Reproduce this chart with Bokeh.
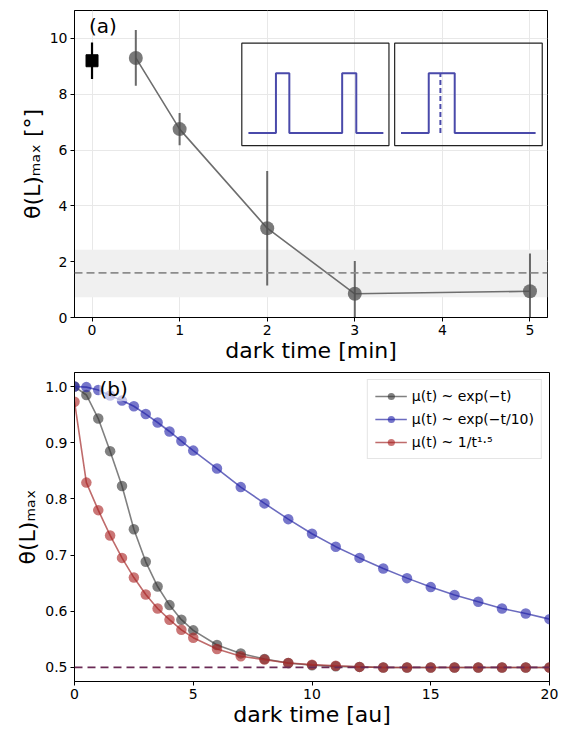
import numpy as np
from bokeh.plotting import figure
from bokeh.models import (Span, BoxAnnotation, Label, Legend, LegendItem,
                          FixedTicker, Range1d, NumeralTickFormatter)
from bokeh.layouts import column
from bokeh.embed import file_html
from bokeh.resources import INLINE

# ---------------- panel (a) data ----------------
dark_min = [0.5, 1, 2, 3, 5]
theta_a = [9.3, 6.75, 3.2, 0.85, 0.94]
err_a = [1.0, 0.58, 2.05, 1.17, 1.35]
ref_x = [0]
ref_y = [9.2]
ref_err = [0.65]
base_level = 1.6
base_low = 0.73
base_high = 2.43

# inset pulse schematics (normalised inset coordinates)
pulse1_t = [0.045, 0.232, 0.232, 0.323, 0.323, 0.682, 0.682, 0.778, 0.778, 0.962]
pulse1_v = [0, 0, 1, 1, 0, 0, 1, 1, 0, 0]
pulse2_t = [0.043, 0.231, 0.231, 0.407, 0.407, 0.955]
pulse2_v = [0, 0, 1, 1, 0, 0]
pulse2_mark_t = [0.31, 0.31]
pulse2_mark_v = [0, 1]

# ---------------- panel (b) data ----------------
t_b = [0, 0.5, 1, 1.5, 2, 2.5, 3, 3.5, 4, 4.5, 5, 6, 7, 8, 9, 10,
       11, 12, 13, 14, 15, 16, 17, 18, 19, 20]
theta_exp1 = [1.0, 0.985, 0.943, 0.885, 0.823, 0.746, 0.688, 0.644, 0.611,
              0.585, 0.566, 0.540, 0.525, 0.515, 0.508, 0.504, 0.502, 0.501,
              0.500, 0.500, 0.500, 0.500, 0.500, 0.500, 0.500, 0.500]
theta_exp10 = [1.0, 0.999, 0.994, 0.984, 0.975, 0.965, 0.951, 0.936, 0.920,
               0.903, 0.886, 0.854, 0.821, 0.792, 0.764, 0.738, 0.715, 0.695,
               0.676, 0.659, 0.643, 0.629, 0.617, 0.605, 0.596, 0.586]
theta_pow = [0.973, 0.829, 0.780, 0.735, 0.695, 0.660, 0.630, 0.605, 0.585,
             0.567, 0.553, 0.533, 0.520, 0.514, 0.508, 0.505, 0.503, 0.501,
             0.500, 0.500, 0.500, 0.500, 0.500, 0.500, 0.500, 0.500]
legend_labels = ["\u03bc(t) ~ exp(\u2212t)", "\u03bc(t) ~ exp(\u2212t/10)",
                 "\u03bc(t) ~ 1/t\u00b9\u00b7\u2075"]
asymptote = 0.5

FONT = "DejaVu Sans"


def style(p, xticks, yticks):
    for ax in (p.xaxis[0], p.yaxis[0]):
        ax.major_label_text_font = FONT
        ax.major_label_text_font_size = "14px"
        ax.major_label_text_color = "black"
        ax.major_label_standoff = 3
        ax.axis_label_text_font = FONT
        ax.axis_label_text_font_size = "22px"
        ax.axis_label_text_font_style = "normal"
        ax.axis_label_text_color = "black"
        ax.axis_label_standoff = 2
        ax.major_tick_out = 4
        ax.major_tick_in = 0
        ax.minor_tick_line_color = None
        ax.axis_line_color = "black"
        ax.major_tick_line_color = "black"
    p.xaxis[0].axis_label_standoff = 0
    p.xaxis[0].ticker = FixedTicker(ticks=xticks)
    p.yaxis[0].ticker = FixedTicker(ticks=yticks)
    p.outline_line_color = "black"
    p.outline_line_alpha = 1
    p.background_fill_color = "white"
    p.border_fill_color = "white"


# ================= panel (a) =================
p1 = figure(frame_width=473, frame_height=307, output_backend="svg",
            toolbar_location=None, x_range=Range1d(-0.2, 5.2),
            y_range=Range1d(0, 11), min_border_left=74, min_border_top=10,
            min_border_right=8, min_border_bottom=40)
style(p1, [0, 1, 2, 3, 4, 5], [0, 2, 4, 6, 8, 10])
p1.xaxis[0].axis_label = "dark time [min]"
p1.yaxis[0].axis_label = "\u03b8(L)\u2098\u2090\u2093 [\u00b0]"
p1.grid.grid_line_color = "#e8e8e8"

p1.add_layout(BoxAnnotation(bottom=base_low, top=base_high, fill_color="#f0f0f0",
                            fill_alpha=1, line_color=None, level="underlay"))
p1.add_layout(Span(location=base_level, dimension="width", line_color="#8c8c8c",
                   line_width=1.6, line_dash="8 4"))

# insets
box_l = [1.71, 3.455]
box_r = [3.39, 5.14]
box_b, box_t = 6.16, 9.83
lvl_lo, lvl_hi = 0.124, 0.707
p1.quad(left=box_l, right=box_r, bottom=[box_b] * 2, top=[box_t] * 2,
        fill_color=None, line_color="#222222", line_width=1.2)


def to_data(i, ts, vs):
    xs = [box_l[i] + t * (box_r[i] - box_l[i]) for t in ts]
    ys = [box_b + (lvl_lo + v * (lvl_hi - lvl_lo)) * (box_t - box_b) for v in vs]
    return xs, ys


xs, ys = to_data(0, pulse1_t, pulse1_v)
p1.line(xs, ys, line_color="#4a4aaa", line_width=2)
xs, ys = to_data(1, pulse2_t, pulse2_v)
p1.line(xs, ys, line_color="#4a4aaa", line_width=2)
xs, ys = to_data(1, pulse2_mark_t, pulse2_mark_v)
p1.line(xs, ys, line_color="#4a4aaa", line_width=2, line_dash="5 3")

# data
p1.line(dark_min, theta_a, line_color="#6e6e6e", line_width=1.6)
p1.segment(x0=dark_min, y0=[y - e for y, e in zip(theta_a, err_a)],
           x1=dark_min, y1=[y + e for y, e in zip(theta_a, err_a)],
           line_color="#5a5a5a", line_width=2, line_alpha=0.9)
p1.scatter(dark_min, theta_a, size=14, fill_color="#4d4d4d", fill_alpha=0.75,
           line_color=None)
p1.segment(x0=ref_x, y0=[y - e for y, e in zip(ref_y, ref_err)],
           x1=ref_x, y1=[y + e for y, e in zip(ref_y, ref_err)],
           line_color="black", line_width=2.2)
p1.scatter(ref_x, ref_y, marker="square", size=12, fill_color="black",
           line_color="black")

p1.add_layout(Label(x=-0.035, y=10.43, text="(a)", text_font=FONT,
                    text_font_size="20px", text_baseline="middle",
                    text_color="black"))

# ================= panel (b) =================
p2 = figure(frame_width=475, frame_height=309, output_backend="svg",
            toolbar_location=None, x_range=Range1d(0, 20),
            y_range=Range1d(0.475, 1.025), min_border_left=74, min_border_top=7,
            min_border_right=12, min_border_bottom=40)
style(p2, [0, 5, 10, 15, 20], [0.5, 0.6, 0.7, 0.8, 0.9, 1.0])
p2.yaxis[0].formatter = NumeralTickFormatter(format="0.0")
p2.xaxis[0].axis_label = "dark time [au]"
p2.yaxis[0].axis_label = "\u03b8(L)\u2098\u2090\u2093"
p2.grid.grid_line_color = None

p2.add_layout(Span(location=asymptote, dimension="width", line_color="#6a2a55",
                   line_width=1.8, line_dash="8 5"))

series = [(theta_exp1, "#333333", "#555555"),
          (theta_exp10, "#2222aa", "#3a3aaa"),
          (theta_pow, "#aa2222", "#aa3a3a")]
items = []
for (vals, mcol, lcol), lab in zip(series, legend_labels):
    l = p2.line(t_b, vals, line_color=lcol, line_width=1.6, line_alpha=0.75)
    s = p2.scatter(t_b, vals, size=10.5, fill_color=mcol, fill_alpha=0.62,
                   line_color=None)
    items.append(LegendItem(label=lab, renderers=[l, s]))

leg = Legend(items=items, location="top_right", label_text_font=FONT,
             label_text_font_size="14px", label_text_color="black",
             glyph_width=32, glyph_height=18,
             label_height=18, spacing=5, padding=7, margin=7,
             border_line_color="#cccccc", border_line_width=1,
             background_fill_alpha=0.85)
p2.add_layout(leg)

p2.add_layout(Label(x=1.05, y=0.995, text="(b)", text_font=FONT,
                    text_font_size="20px", text_baseline="middle",
                    text_color="black", background_fill_color="white",
                    background_fill_alpha=0.6))

layout = column(p1, p2, spacing=0)
open("out.html", "w").write(file_html(layout, INLINE))
